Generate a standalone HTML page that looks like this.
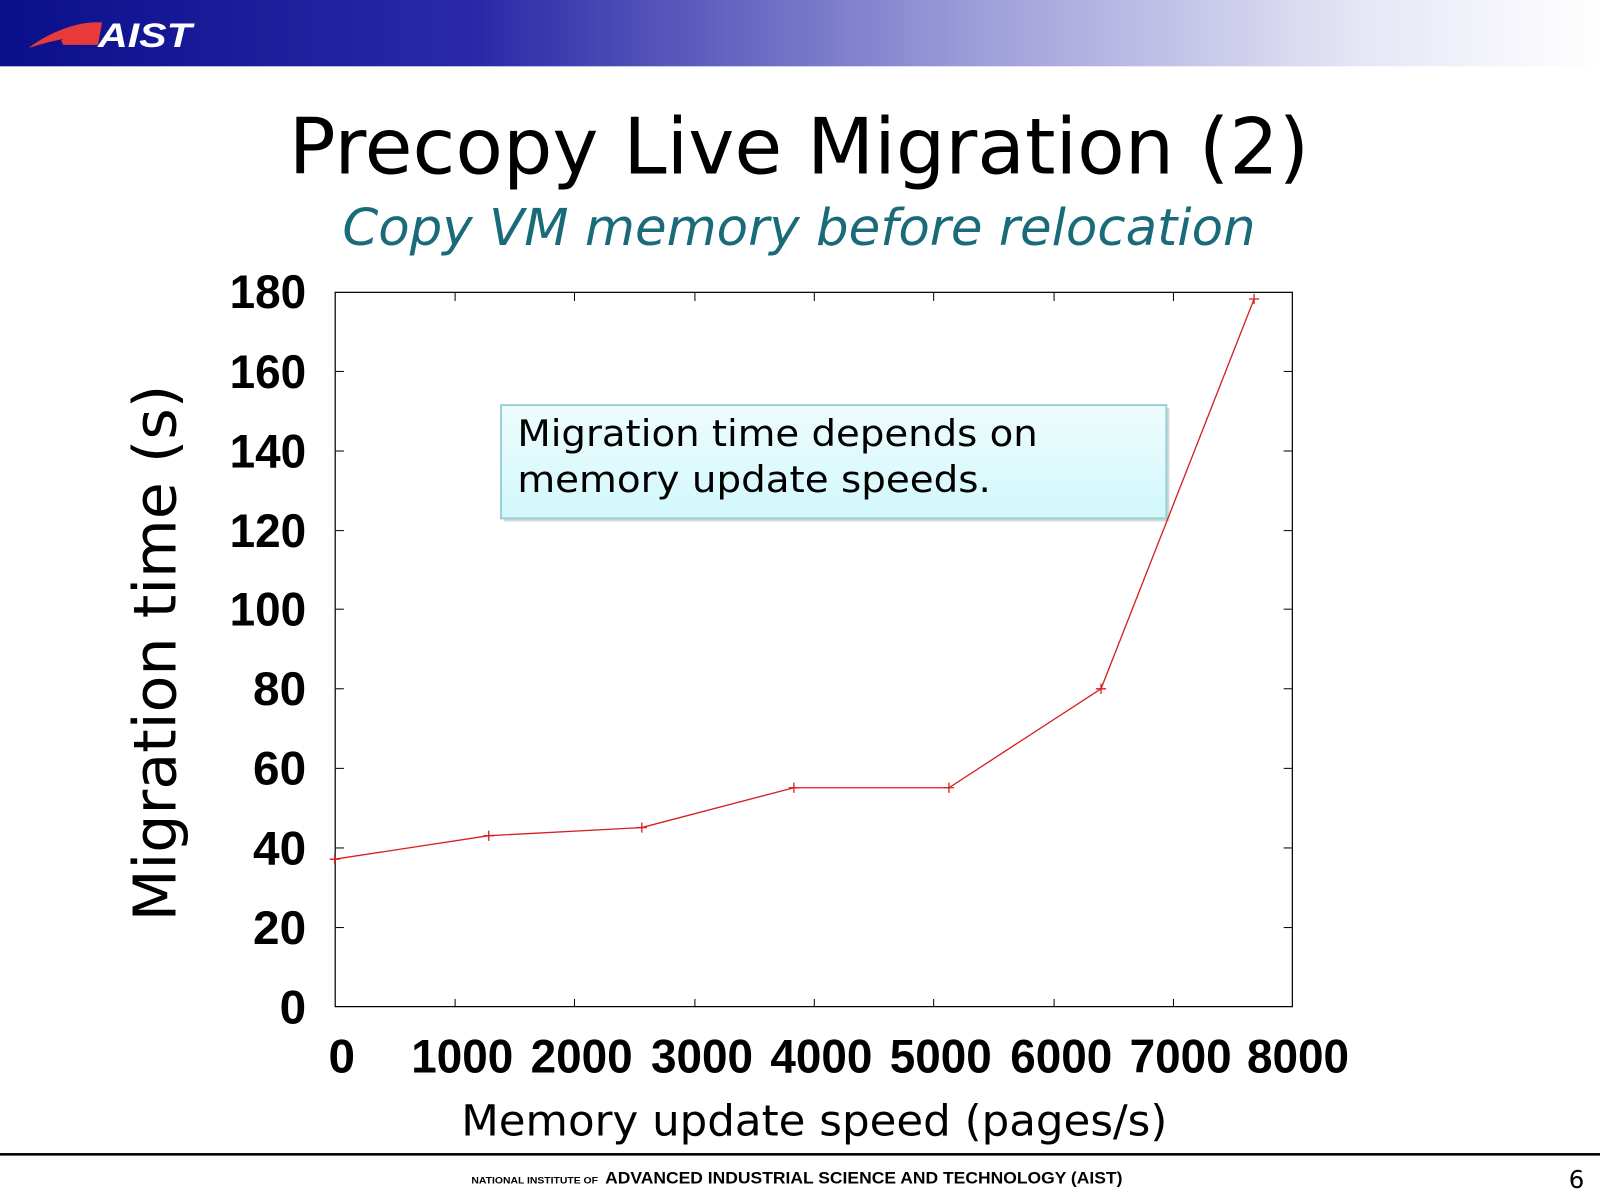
<!DOCTYPE html>
<html><head><meta charset="utf-8"><style>
html,body{margin:0;padding:0;background:#fff;}
svg{display:block;}
</style></head><body>
<svg width="1600" height="1200" viewBox="0 0 1568 1176" xmlns="http://www.w3.org/2000/svg" preserveAspectRatio="none">
<defs>
<linearGradient id="ban" x1="0" x2="1" y1="0" y2="0">
<stop offset="0" stop-color="#0a0f8a"/>
<stop offset="0.3" stop-color="#2a2aa8"/>
<stop offset="0.6" stop-color="#9a9ad8"/>
<stop offset="0.85" stop-color="#e6e6f6"/>
<stop offset="1" stop-color="#ffffff"/>
</linearGradient>
<linearGradient id="box" x1="0" x2="0" y1="0" y2="1">
<stop offset="0" stop-color="#eefcfd"/>
<stop offset="1" stop-color="#d2f8fb"/>
</linearGradient>
</defs>
<rect x="0" y="0" width="1568" height="65" fill="url(#ban)"/>
<path d="M28,47 C50,30 80,20 100,22 L94,36 C75,34 50,40 28,47 Z" fill="#e83a3a"/>
<path d="M60,40 C70,28 85,23 100,22 L96,44 L62,44 Z" fill="#e83a3a"/>
<text x="96" y="46" font-family="Liberation Sans, sans-serif" font-weight="bold" font-style="italic" font-size="34" fill="#fff" textLength="92" lengthAdjust="spacingAndGlyphs">AIST</text>

<text x="783" y="170" text-anchor="middle" font-family="DejaVu Sans, Liberation Sans, sans-serif" font-size="76" fill="#000" textLength="1000" lengthAdjust="spacingAndGlyphs">Precopy Live Migration (2)</text>
<text x="783" y="240" text-anchor="middle" font-family="DejaVu Sans, Liberation Sans, sans-serif" font-style="italic" font-size="50" fill="#1a6b7a" textLength="895" lengthAdjust="spacingAndGlyphs">Copy VM memory before relocation</text>

<rect x="328.5" y="286.5" width="938" height="700" fill="none" stroke="#000" stroke-width="1.2"/>
<g stroke="#000" stroke-width="1">
<line x1="446" y1="987" x2="446" y2="979"/><line x1="563" y1="987" x2="563" y2="979"/><line x1="681" y1="987" x2="681" y2="979"/><line x1="798" y1="987" x2="798" y2="979"/><line x1="915" y1="987" x2="915" y2="979"/><line x1="1033" y1="987" x2="1033" y2="979"/><line x1="1150" y1="987" x2="1150" y2="979"/>
<line x1="446" y1="287" x2="446" y2="295"/><line x1="563" y1="287" x2="563" y2="295"/><line x1="681" y1="287" x2="681" y2="295"/><line x1="798" y1="287" x2="798" y2="295"/><line x1="915" y1="287" x2="915" y2="295"/><line x1="1033" y1="287" x2="1033" y2="295"/><line x1="1150" y1="287" x2="1150" y2="295"/>
<line x1="329" y1="909" x2="337" y2="909"/><line x1="329" y1="831" x2="337" y2="831"/><line x1="329" y1="753" x2="337" y2="753"/><line x1="329" y1="675" x2="337" y2="675"/><line x1="329" y1="597" x2="337" y2="597"/><line x1="329" y1="520" x2="337" y2="520"/><line x1="329" y1="442" x2="337" y2="442"/><line x1="329" y1="364" x2="337" y2="364"/>
<line x1="1266" y1="909" x2="1258" y2="909"/><line x1="1266" y1="831" x2="1258" y2="831"/><line x1="1266" y1="753" x2="1258" y2="753"/><line x1="1266" y1="675" x2="1258" y2="675"/><line x1="1266" y1="597" x2="1258" y2="597"/><line x1="1266" y1="520" x2="1258" y2="520"/><line x1="1266" y1="442" x2="1258" y2="442"/><line x1="1266" y1="364" x2="1258" y2="364"/>
</g>
<g font-family="Liberation Sans, sans-serif" font-weight="bold" font-size="46" fill="#000" text-anchor="end" lengthAdjust="spacingAndGlyphs">
<text x="300" y="1003" textLength="26" lengthAdjust="spacingAndGlyphs">0</text><text x="300" y="925" textLength="52" lengthAdjust="spacingAndGlyphs">20</text><text x="300" y="847" textLength="52" lengthAdjust="spacingAndGlyphs">40</text><text x="300" y="769" textLength="52" lengthAdjust="spacingAndGlyphs">60</text><text x="300" y="691" textLength="52" lengthAdjust="spacingAndGlyphs">80</text><text x="300" y="613" textLength="75" lengthAdjust="spacingAndGlyphs">100</text><text x="300" y="536" textLength="75" lengthAdjust="spacingAndGlyphs">120</text><text x="300" y="458" textLength="75" lengthAdjust="spacingAndGlyphs">140</text><text x="300" y="380" textLength="75" lengthAdjust="spacingAndGlyphs">160</text><text x="300" y="302" textLength="75" lengthAdjust="spacingAndGlyphs">180</text>
</g>
<g font-family="Liberation Sans, sans-serif" font-weight="bold" font-size="46" fill="#000" text-anchor="middle">
<text x="335" y="1051" textLength="26" lengthAdjust="spacingAndGlyphs">0</text><text x="453" y="1051" textLength="100" lengthAdjust="spacingAndGlyphs">1000</text><text x="570" y="1051" textLength="100" lengthAdjust="spacingAndGlyphs">2000</text><text x="688" y="1051" textLength="100" lengthAdjust="spacingAndGlyphs">3000</text><text x="805" y="1051" textLength="100" lengthAdjust="spacingAndGlyphs">4000</text><text x="922" y="1051" textLength="100" lengthAdjust="spacingAndGlyphs">5000</text><text x="1040" y="1051" textLength="100" lengthAdjust="spacingAndGlyphs">6000</text><text x="1157" y="1051" textLength="100" lengthAdjust="spacingAndGlyphs">7000</text><text x="1272" y="1051" textLength="100" lengthAdjust="spacingAndGlyphs">8000</text>
</g>
<text transform="translate(172,640) rotate(-90)" text-anchor="middle" font-family="DejaVu Sans, Liberation Sans, sans-serif" font-size="58" fill="#000" textLength="526" lengthAdjust="spacingAndGlyphs">Migration time (s)</text>
<text x="798" y="1113" text-anchor="middle" font-family="DejaVu Sans, Liberation Sans, sans-serif" font-size="42" fill="#000" textLength="692" lengthAdjust="spacingAndGlyphs">Memory update speed (pages/s)</text>

<rect x="494" y="400" width="652" height="111" fill="#9aa" opacity="0.45"/>
<rect x="491" y="397" width="652" height="111" fill="url(#box)" stroke="#9ccfd6" stroke-width="2"/>
<g font-family="DejaVu Sans, Liberation Sans, sans-serif" font-size="36" fill="#000">
<text x="507" y="437" textLength="510" lengthAdjust="spacingAndGlyphs">Migration time depends on</text>
<text x="507" y="482" textLength="464" lengthAdjust="spacingAndGlyphs">memory update speeds.</text>
</g>

<polyline points="328,842 479,819 629,811 778,772 930,772 1079,675 1229,293" fill="none" stroke="#d42020" stroke-width="1.3"/>
<g stroke="#d42020" stroke-width="1.3">
<path d="M323,842h10M328,837v10M474,819h10M479,814v10M624,811h10M629,806v10M773,772h10M778,767v10M925,772h10M930,767v10M1074,675h10M1079,670v10M1224,293h10M1229,288v10"/>
</g>

<rect x="0" y="1130" width="1568" height="2.5" fill="#000"/>
<text x="462" y="1160" font-family="Liberation Sans, sans-serif" font-weight="bold" font-size="9" fill="#000" textLength="124" lengthAdjust="spacingAndGlyphs">NATIONAL INSTITUTE OF</text>
<text x="593" y="1160" font-family="Liberation Sans, sans-serif" font-weight="bold" font-size="16" fill="#000" textLength="507" lengthAdjust="spacingAndGlyphs">ADVANCED INDUSTRIAL SCIENCE AND TECHNOLOGY (AIST)</text>
<text x="1545" y="1164" text-anchor="middle" font-family="DejaVu Sans, Liberation Sans, sans-serif" font-size="24" fill="#000">6</text>
</svg>
</body></html>
